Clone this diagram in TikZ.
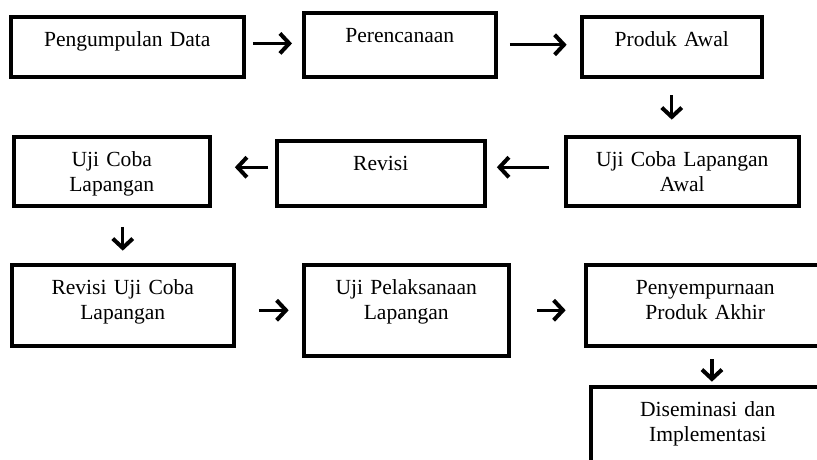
\documentclass[tikz,border=0pt]{standalone}
\usepackage{fontspec}
\setmainfont{Liberation Serif}
\usetikzlibrary{arrows.meta}
\newlength{\px}
\setlength{\px}{0.03cm}
\begin{document}
\begin{tikzpicture}[x=0.03cm, y=-0.03cm,
  box/.style={draw, line width=3pt, inner sep=0pt, anchor=north west, align=center,
    text height=30.2\px, font=\fontsize{18.4}{21.3}\selectfont},
  arr/.style={line width=2.8pt, -{Straight Barb[length=0.28cm, width=0.6cm, line width=0.12cm, line join=miter]}}]
\useasboundingbox (0,0) rectangle (817,460);
\node[box, text width=233\px, text depth=29.8\px] (data) at (9,15) {Pengumpulan Data};
\node[box, text width=192\px, text depth=33.8\px] (rencana) at (302,11) {Perencanaan};
\node[box, text width=180\px, text depth=29.8\px] (produk) at (580,15) {Produk Awal};
\node[box, text width=233\px, text depth=38.8\px] (ujiawal) at (564,135) {Uji Coba Lapangan\\Awal};
\node[box, text width=208\px, text depth=34.8\px] (revisi) at (275,139) {Revisi};
\node[box, text width=196\px, text depth=38.8\px] (ujicoba) at (12,135) {Uji Coba\\Lapangan};
\node[box, text width=222\px, text depth=50.8\px] (revuji) at (10,263) {Revisi Uji Coba\\Lapangan};
\node[box, text width=205\px, text depth=60.8\px] (pelaksanaan) at (302,263) {Uji Pelaksanaan\\Lapangan};
\node[box, text width=239\px, text depth=50.8\px] (akhir) at (584,263) {Penyempurnaan\\Produk Akhir};
\node[box, text width=234\px, text depth=69.8\px] (diseminasi) at (589,385) {Diseminasi dan\\Implementasi};

\draw[arr, shorten <=0.22cm, shorten >=0.3cm] ([yshift=0.1cm]data.east) -- ([yshift=0.1cm]data.east -| rencana.west);
\draw[arr, shorten <=0.37cm, shorten >=0.4cm] (rencana.east) -- (rencana.east -| produk.west);
\draw[arr, shorten <=0.5cm, shorten >=0.46cm] (produk.south) -- (produk.south |- ujiawal.north);
\draw[arr, shorten <=0.46cm, shorten >=0.31cm] ([yshift=0.12cm]ujiawal.west) -- ([yshift=0.12cm]ujiawal.west -| revisi.east);
\draw[arr, shorten <=0.2cm, shorten >=0.7cm] ([yshift=0.18cm]revisi.west) -- ([yshift=0.18cm]revisi.west -| ujicoba.east);
\draw[arr, shorten <=0.58cm, shorten >=0.37cm] (ujicoba.south -| revuji.north) -- (revuji.north);
\draw[arr, shorten <=0.7cm, shorten >=0.4cm] (revuji.east |- pelaksanaan.west) -- (pelaksanaan.west);
\draw[arr, shorten <=0.8cm, shorten >=0.55cm] (pelaksanaan.east) -- (pelaksanaan.east -| akhir.west);
\draw[arr, shorten <=0.35cm, shorten >=0.1cm] ([xshift=0.2cm]akhir.south) -- ([xshift=0.2cm]akhir.south |- diseminasi.north);
\end{tikzpicture}
\end{document}
